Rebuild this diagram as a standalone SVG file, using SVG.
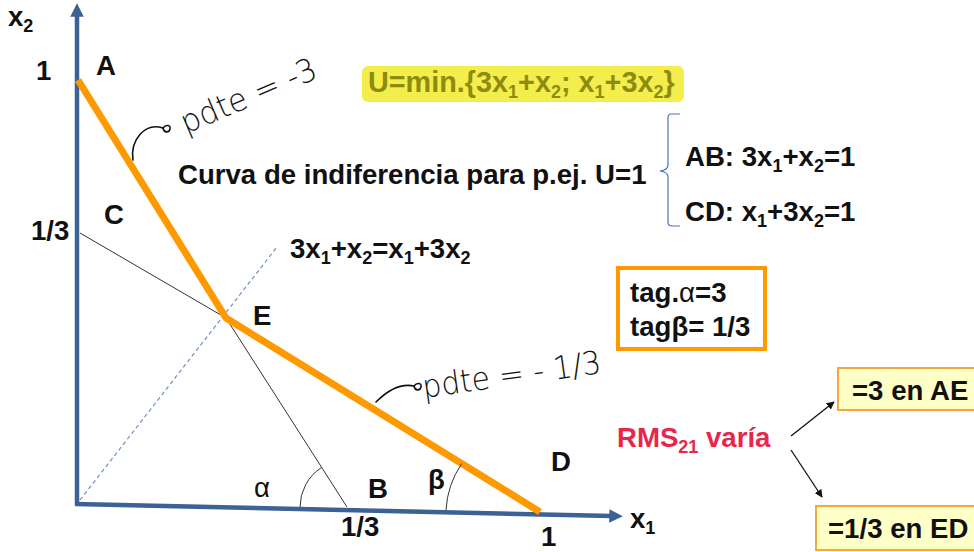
<svg xmlns="http://www.w3.org/2000/svg" width="974" height="552" viewBox="0 0 974 552">
<defs>
<style>
.t{font-family:"Liberation Sans",Arial,sans-serif;font-weight:bold;font-size:27.6px;fill:#111}
.s{font-size:18px}
.hw{font-family:"DejaVu Sans","Liberation Sans",sans-serif;font-weight:200;font-size:32px;fill:#111}
.axis{stroke:#3b6195;stroke-width:4.5;fill:none}
.thin{stroke:#333;stroke-width:1;fill:none}
.ink{stroke:#111;stroke-width:1.6;fill:none;stroke-linecap:round}
</style>
<marker id="axarr" viewBox="0 0 10 10" refX="2" refY="5" markerWidth="3" markerHeight="3" orient="auto">
<path d="M0,0 L10,5 L0,10 z" fill="#3b6195"/>
</marker>
<marker id="arr" viewBox="0 0 10 10" refX="9" refY="5" markerWidth="8" markerHeight="8" markerUnits="userSpaceOnUse" orient="auto">
<path d="M0,0 L10,5 L0,10 z" fill="#111"/>
</marker>
</defs>
<rect width="974" height="552" fill="#fff"/>

<g id="axes">
<path class="axis" d="M77,505 L77,14" marker-end="url(#axarr)"/>
<path class="axis" d="M75,504 L612,516" marker-end="url(#axarr)"/>
</g>

<g id="connectors">
<path d="M80,500 L277,247" stroke="#6d8fc8" stroke-width="1.2" stroke-dasharray="4,3" fill="none"/>
<path class="thin" d="M80,233 L226,318 L347,507"/>
<path d="M78,80 L226,318 L540,512" stroke="#ff9900" stroke-width="7" fill="none" stroke-linejoin="round"/>
<path class="thin" d="M300,507 A47,47 0 0 1 321.7,467.4"/>
<path class="thin" d="M446,510 A92,92 0 0 1 461.7,463.6"/>
<path d="M791,436 L834,402" stroke="#111" stroke-width="1.3" fill="none" marker-end="url(#arr)"/>
<path d="M791,450 L822,497" stroke="#111" stroke-width="1.3" fill="none" marker-end="url(#arr)"/>
<path d="M680,114 L671,114 Q668,114 668,118 L668,165 Q668,170 660,171 Q668,172 668,177 L668,222 Q668,226 672,226 L680,226" stroke="#4a74b8" stroke-width="1.2" fill="none"/>
<path class="ink" d="M133,160 C130,140 145,122 163,128"/>
<path class="ink" d="M163,128 c3,-4 8,-3 7,1 c-1,4 -6,4 -7,-1"/>
<path class="ink" d="M376,402 C388,390 400,383 414,386"/>
<path class="ink" d="M414,386 c3,-4 8,-3 7,1 c-1,4 -6,4 -7,-1"/>
</g>

<g id="axis-labels">
<text class="t" x="8" y="26">x<tspan class="s" dy="6">2</tspan></text>
<text class="t" x="36" y="80">1</text>
<text class="t" x="31" y="240">1/3</text>
<text class="t" x="341" y="536">1/3</text>
<text class="t" x="541" y="546">1</text>
<text class="t" x="630" y="528">x<tspan class="s" dy="6">1</tspan></text>
</g>

<g id="points">
<text class="t" x="96" y="75">A</text>
<text class="t" x="104" y="224">C</text>
<text class="t" x="253" y="325">E</text>
<text class="t" x="368" y="498">B</text>
<text class="t" x="551" y="471">D</text>
<text class="t" x="254" y="497" style="font-weight:normal">α</text>
<text class="t" x="428" y="489">β</text>
</g>

<g id="bisector-label">
<text class="t" x="290" y="258">3x<tspan class="s" dy="6">1</tspan><tspan dy="-6">+x</tspan><tspan class="s" dy="6">2</tspan><tspan dy="-6">=x</tspan><tspan class="s" dy="6">1</tspan><tspan dy="-6">+3x</tspan><tspan class="s" dy="6">2</tspan></text>
</g>

<g id="utility">
<rect x="362" y="66" width="322" height="36" rx="6" fill="#f3ee4c"/>
<text class="t" x="368" y="92" style="fill:#8e8c10;font-size:28.8px">U=min.{3x<tspan class="s" dy="6">1</tspan><tspan dy="-6">+x</tspan><tspan class="s" dy="6">2</tspan><tspan dy="-6">; x</tspan><tspan class="s" dy="6">1</tspan><tspan dy="-6">+3x</tspan><tspan class="s" dy="6">2</tspan><tspan dy="-6">}</tspan></text>
</g>

<g id="curve-label">
<text class="t" x="178" y="184">Curva de indiferencia para p.ej. U=1</text>
</g>

<g id="equations">
<text class="t" x="685" y="166">AB: 3x<tspan class="s" dy="6">1</tspan><tspan dy="-6">+x</tspan><tspan class="s" dy="6">2</tspan><tspan dy="-6">=1</tspan></text>
<text class="t" x="685" y="221">CD: x<tspan class="s" dy="6">1</tspan><tspan dy="-6">+3x</tspan><tspan class="s" dy="6">2</tspan><tspan dy="-6">=1</tspan></text>
</g>

<g id="tangents">
<rect x="618" y="268" width="147" height="81" fill="#fff" stroke="#ff9900" stroke-width="4"/>
<text class="t" x="630" y="302">tag.<tspan style="font-weight:normal">α</tspan>=3</text>
<text class="t" x="630" y="336">tagβ= 1/3</text>
</g>

<g id="rms">
<text class="t" x="617" y="447" style="fill:#e8264c">RMS<tspan class="s" dy="6">21</tspan><tspan dy="-6"> varía</tspan></text>
</g>

<g id="box-ae">
<rect x="838" y="368" width="140" height="42" fill="#ffffc8" stroke="#f5a83a" stroke-width="2"/>
<text class="t" x="852" y="400">=3 en AE</text>
</g>

<g id="box-ed">
<rect x="816" y="506" width="162" height="44" fill="#ffffc8" stroke="#f5a83a" stroke-width="2"/>
<text class="t" x="828" y="538">=1/3 en ED</text>
</g>

<g id="handwriting">
<text class="hw" transform="translate(186,134) rotate(-23)" textLength="145" lengthAdjust="spacingAndGlyphs">pdte = -3</text>
<text class="hw" transform="translate(424,398) rotate(-8)" textLength="180" lengthAdjust="spacingAndGlyphs">pdte = - 1/3</text>
</g>
</svg>
